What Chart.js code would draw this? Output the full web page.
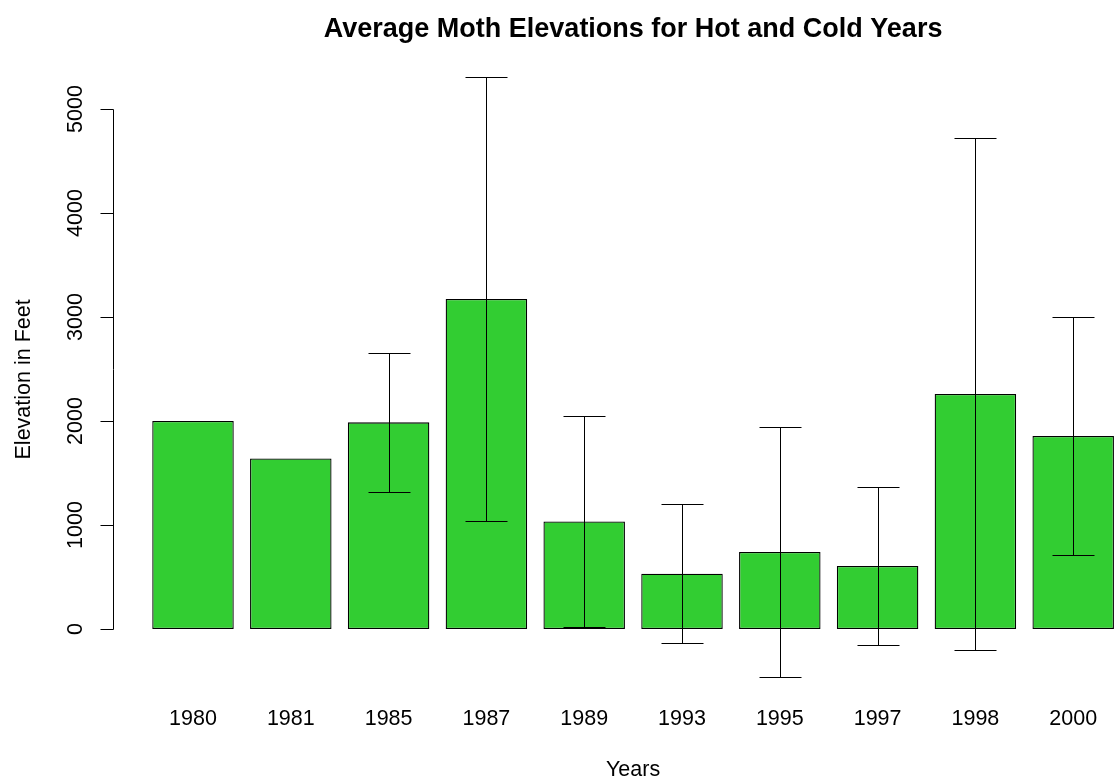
<!DOCTYPE html>
<html>
<head>
<meta charset="utf-8">
<title>Average Moth Elevations</title>
<script src="https://cdn.jsdelivr.net/npm/chart.js@4"></script>
<style>
  html, body { margin: 0; padding: 0; background: #fff; overflow: hidden; }
  #wrap { width: 1160px; height: 783px; }
</style>
</head>
<body>
<div id="wrap"><canvas id="myChart" width="1160" height="783"></canvas></div>
<script>
// data
const years = ["1980", "1981", "1985", "1987", "1989", "1993", "1995", "1997", "1998", "2000"];
const meanElevation = [2000, 1640, 1987, 3173, 1033, 532, 740, 606, 2260, 1856];
const errLow = [null, null, 1317, 1036, 15, -136, -465, -157, -202, 714];
const errHigh = [null, null, 2657, 5310, 2051, 1200, 1945, 1366, 4722, 2999];
const yTicks = [0, 1000, 2000, 3000, 4000, 5000];

const fontFamily = "'Liberation Sans', Arial, Helvetica, sans-serif";

// error bars drawn on top of the bars
const errorBars = {
  id: "errorBars",
  afterDatasetsDraw(chart) {
    let ctx = chart.ctx;
    let y = chart.scales.y;
    let bars = chart.getDatasetMeta(0).data;
    ctx.save();
    ctx.strokeStyle = "#000";
    ctx.lineWidth = 1;
    for (let i = 0; i < bars.length; i++) {
      if (errLow[i] === null) continue;
      let x = Math.round(bars[i].x) + 0.5;
      let top = Math.round(y.getPixelForValue(errHigh[i])) + 0.5;
      let bot = Math.round(y.getPixelForValue(errLow[i])) + 0.5;
      ctx.beginPath();
      ctx.moveTo(x, top);
      ctx.lineTo(x, bot);
      ctx.moveTo(x - 21, top);
      ctx.lineTo(x + 21, top);
      ctx.moveTo(x - 21, bot);
      ctx.lineTo(x + 21, bot);
      ctx.stroke();
    }
    ctx.restore();
  },
};

// R style left axis: line, ticks and vertical labels
const leftAxis = {
  id: "leftAxis",
  afterDraw(chart) {
    let ctx = chart.ctx;
    let y = chart.scales.y;
    let area = chart.chartArea;
    let axisX = 113.5;
    ctx.save();
    ctx.strokeStyle = "#000";
    ctx.lineWidth = 1;
    ctx.beginPath();
    ctx.moveTo(axisX, Math.round(y.getPixelForValue(yTicks[0])) + 0.5);
    ctx.lineTo(axisX, Math.round(y.getPixelForValue(yTicks[yTicks.length - 1])) + 0.5);
    yTicks.forEach((t) => {
      let py = Math.round(y.getPixelForValue(t)) + 0.5;
      ctx.moveTo(axisX - 13, py);
      ctx.lineTo(axisX, py);
    });
    ctx.stroke();

    ctx.fillStyle = "#000";
    ctx.font = "21.5px " + fontFamily;
    ctx.textAlign = "center";
    ctx.textBaseline = "alphabetic";
    yTicks.forEach((t) => {
      ctx.save();
      ctx.translate(82, y.getPixelForValue(t));
      ctx.rotate(-Math.PI / 2);
      ctx.fillText(String(t), 0, 0);
      ctx.restore();
    });

    ctx.save();
    ctx.translate(29.5, (area.top + area.bottom) / 2);
    ctx.rotate(-Math.PI / 2);
    ctx.fillText("Elevation in Feet", 0, 0);
    ctx.restore();
    ctx.restore();
  },
};

let ctx = document.getElementById("myChart").getContext("2d");
let chart = new Chart(ctx, {
  type: "bar",
  data: {
    labels: years,
    datasets: [
      {
        data: meanElevation,
        backgroundColor: "#32CD32",
        borderColor: "#000",
        borderWidth: 1.3,
        borderSkipped: false,
        categoryPercentage: 1,
        barPercentage: 1 / 1.2,
      },
    ],
  },
  options: {
    responsive: false,
    animation: false,
    devicePixelRatio: 1,
    layout: { padding: { left: 144.1, right: 37.9, top: 0, bottom: 0 } },
    plugins: {
      legend: { display: false },
      tooltip: { enabled: false },
      title: {
        display: true,
        text: "Average Moth Elevations for Hot and Cold Years",
        color: "#000",
        font: { family: fontFamily, size: 27, weight: "bold" },
        padding: { top: 13.2, bottom: 11.4 },
      },
    },
    scales: {
      x: {
        grid: { display: false, drawTicks: false },
        border: { display: false },
        ticks: {
          color: "#000",
          font: { family: fontFamily, size: 21.5 },
          padding: 4.3,
          maxRotation: 0,
          autoSkip: false,
        },
        title: {
          display: true,
          text: "Years",
          color: "#000",
          font: { family: fontFamily, size: 21.5 },
          padding: { top: 21, bottom: 0 },
        },
      },
      y: {
        display: false,
        min: -700,
        max: 5500,
      },
    },
  },
  plugins: [errorBars, leftAxis],
});
</script>
</body>
</html>
